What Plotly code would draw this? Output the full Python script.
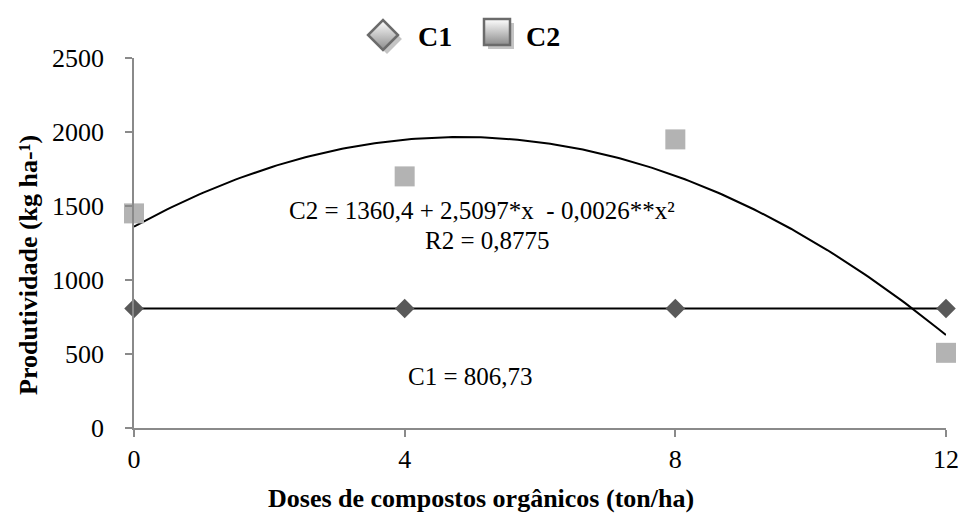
import numpy as np
import plotly.graph_objects as go

doses = [0, 4, 8, 12]
c1_values = [806.73, 806.73, 806.73, 806.73]
c2_values = [1450, 1700, 1950, 508]
c1_mean = 806.73
c2_coef = [1360.4, 2.5097, -0.0026]  # x expressed as ton/ha * 100
x_ticks = [0, 4, 8, 12]
y_ticks = [0, 500, 1000, 1500, 2000, 2500]
series_names = ["C1", "C2"]

FONT = "Liberation Serif"
W, H = 964, 521
PX0, PX1 = 134, 946      # plot area in pixels (x)
PY0, PY1 = 428, 58       # plot area in pixels (y: bottom, top)

fig = go.Figure()

# trendlines
xs = np.linspace(0, 12, 200)
xx = xs * 100
c2_fit = c2_coef[0] + c2_coef[1] * xx + c2_coef[2] * xx ** 2
fig.add_trace(go.Scatter(x=xs, y=c2_fit, mode="lines", line=dict(color="black", width=2),
                         showlegend=False, hoverinfo="skip", cliponaxis=False))
fig.add_trace(go.Scatter(x=[0, 12], y=[c1_mean, c1_mean], mode="lines",
                         line=dict(color="black", width=2), showlegend=False, hoverinfo="skip"))

# data markers
fig.add_trace(go.Scatter(x=doses, y=c1_values, mode="markers", showlegend=False, cliponaxis=False,
                         marker=dict(symbol="diamond", size=15, color="#595959")))
fig.add_trace(go.Scatter(x=doses, y=c2_values, mode="markers", showlegend=False, cliponaxis=False,
                         marker=dict(symbol="square", size=20, color="#b3b3b3")))

# manual legend (pixel overlay axes)
leg_syms = ["diamond", "square"]
leg_sizes = [23, 26]
leg_x = [383, 497]
leg_y = [35, 32]
for sym, sz, lx, ly, name in zip(leg_syms, leg_sizes, leg_x, leg_y, series_names):
    fig.add_trace(go.Scatter(x=[lx + 4], y=[ly + 4], xaxis="x2", yaxis="y2", mode="markers",
                             showlegend=False, hoverinfo="skip",
                             marker=dict(symbol=sym, size=sz, color="#c4c4c4")))
    fig.add_trace(go.Scatter(x=[lx], y=[ly], xaxis="x2", yaxis="y2", mode="markers",
                             showlegend=False, hoverinfo="skip",
                             marker=dict(symbol=sym, size=sz, color="#ffffff",
                                         gradient=dict(type="vertical", color="#8c8c8c"),
                                         line=dict(color="#6b6b6b", width=2.5))))
fig.add_annotation(x=416, y=36, xref="x2", yref="y2", text="<b>C1</b>", showarrow=False,
                   xanchor="left", yanchor="middle", font=dict(family=FONT, size=28, color="black"))
fig.add_annotation(x=524, y=36, xref="x2", yref="y2", text="<b>C2</b>", showarrow=False,
                   xanchor="left", yanchor="middle", font=dict(family=FONT, size=28, color="black"))

txt = dict(family=FONT, size=25, color="black")
fig.add_annotation(x=5.14, y=1473, text="C2 = 1360,4 + 2,5097*x  - 0,0026**x²", showarrow=False,
                   font=txt, xanchor="center", yanchor="middle")
fig.add_annotation(x=5.23, y=1264, text="R2 = 0,8775", showarrow=False,
                   font=txt, xanchor="center", yanchor="middle")
fig.add_annotation(x=4.97, y=345, text="C1 = 806,73", showarrow=False,
                   font=txt, xanchor="center", yanchor="middle")

# axis titles
fig.add_annotation(x=481 / W, y=1 - 498 / H, xref="paper", yref="paper", showarrow=False,
                   text="<b>Doses de compostos orgânicos (ton/ha)</b>",
                   font=dict(family=FONT, size=26, color="black"), xanchor="center", yanchor="middle")
fig.add_annotation(x=28 / W, y=1 - 265 / H, xref="paper", yref="paper", showarrow=False,
                   text="<b>Produtividade (kg ha-¹)</b>", textangle=-90,
                   font=dict(family=FONT, size=26, color="black"), xanchor="center", yanchor="middle")

fig.update_layout(
    width=W, height=H,
    margin=dict(l=0, r=0, t=0, b=0, autoexpand=False),
    plot_bgcolor="rgba(0,0,0,0)", paper_bgcolor="white",
    font=dict(family=FONT, size=25, color="black"),
    showlegend=False,
    xaxis=dict(domain=[PX0 / W, PX1 / W], range=[0, 12], tickvals=x_ticks,
               ticktext=[str(v) for v in x_ticks],
               showgrid=False, zeroline=False, showline=True, linecolor="#8a8a8a", linewidth=1.5,
               ticks="outside", ticklen=7, tickcolor="#8a8a8a", tickwidth=1.5, automargin=False,
               tickfont=dict(family=FONT, size=26)),
    yaxis=dict(domain=[1 - PY0 / H, 1 - PY1 / H], range=[0, 2500], tickvals=y_ticks,
               showgrid=False, zeroline=False, showline=True, linecolor="#8a8a8a", linewidth=1.5,
               ticks="outside", ticklen=7, tickcolor="#8a8a8a", tickwidth=1.5, automargin=False,
               ticklabelstandoff=16, tickfont=dict(family=FONT, size=26)),
    xaxis2=dict(domain=[0, 1], range=[0, W], anchor="y2", visible=False, fixedrange=True),
    yaxis2=dict(domain=[0, 1], range=[H, 0], anchor="x2", visible=False, fixedrange=True),
)

fig.write_html("out.html")
